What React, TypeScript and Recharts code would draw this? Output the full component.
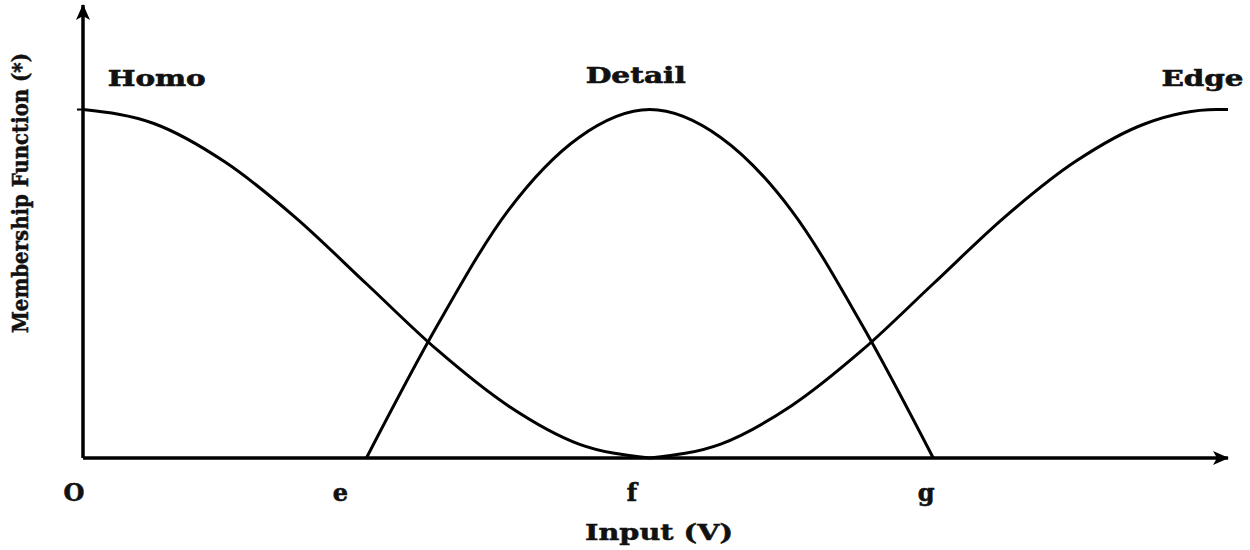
import React from "react";
import { LineChart, Line, XAxis, YAxis, ReferenceDot } from "recharts";

// input positions: O, e, f, g on the x axis (unit steps), last point is the right edge
const inputs = [0, 0.25, 0.5, 0.75, 1, 1.25, 1.5, 1.75, 2, 2.25, 2.5, 2.75, 3, 3.25, 3.5, 3.75, 4, 4.04];
const homo = [1, 0.96, 0.85, 0.69, 0.5, 0.31, 0.15, 0.04, 0, null, null, null, null, null, null, null, null, null];
const detail = [null, null, null, null, 0, 0.38, 0.71, 0.92, 1, 0.92, 0.71, 0.38, 0, null, null, null, null, null];
const edge = [null, null, null, null, null, null, null, null, 0, 0.04, 0.15, 0.31, 0.5, 0.69, 0.85, 0.96, 1, 1];

const tickValues = [0, 1, 2, 3];
const tickLabels = ["O", "e", "f", "g"];

const seriesLabels = [
  { name: "Homo", x: 0.26, y: 1.09, width: 98 },
  { name: "Detail", x: 1.95, y: 1.1, width: 100 },
  { name: "Edge", x: 3.95, y: 1.09, width: 82 },
];

const data = inputs.map((x, i) => ({
  x,
  homo: homo[i],
  detail: detail[i],
  edge: edge[i],
}));

const FONT = "'DejaVu Serif', serif";
const tickShift = [-9, -26, -18, -7];

const XTick = (props: any) => {
  const { x, payload } = props;
  const i = tickValues.indexOf(payload.value);
  return (
    <text
      x={x + (tickShift[i] || 0)}
      y={501}
      textAnchor="middle"
      fontFamily={FONT}
      fontWeight="bold"
      fontSize={24}
      fill="#111"
      stroke="#111"
      strokeWidth={0.6}
    >
      {tickLabels[i]}
    </text>
  );
};

const makeLabel = (text: string, width: number) => (props: any) => {
  const vb = props.viewBox || {};
  return (
    <text
      x={vb.x}
      y={vb.y + 8}
      textAnchor="middle"
      fontFamily={FONT}
      fontWeight="bold"
      fontSize={22}
      fill="#111"
      stroke="#111"
      strokeWidth={0.6}
      textLength={width}
      lengthAdjust="spacingAndGlyphs"
    >
      {text}
    </text>
  );
};

export default function App() {
  return (
    <div style={{ position: "absolute", left: 0, top: 0, background: "#fff" }}>
      <svg width={0} height={0} style={{ position: "absolute" }}>
        <defs>
          <marker
            id="arrowHead"
            viewBox="0 0 16 14"
            markerWidth={16}
            markerHeight={14}
            refX={15}
            refY={7}
            markerUnits="userSpaceOnUse"
            orient="auto-start-reverse"
          >
            <path d="M0,0 L16,7 L0,14 L4,7 z" fill="#000" />
          </marker>
        </defs>
      </svg>
      <LineChart
        width={1250}
        height={550}
        data={data}
        margin={{ top: 5, right: 22, bottom: 0, left: 2 }}
      >
        <XAxis
          dataKey="x"
          type="number"
          domain={[0, 4.04]}
          ticks={tickValues}
          interval={0}
          height={92}
          tickLine={false}
          tick={<XTick />}
          axisLine={{ stroke: "#000", strokeWidth: 3.5, markerEnd: "url(#arrowHead)" }}
          label={() => (
            <text
              x={659}
              y={540}
              textAnchor="middle"
              fontFamily={FONT}
              fontWeight="bold"
              fontSize={22}
              fill="#111"
              stroke="#111"
              strokeWidth={0.5}
              textLength={148}
              lengthAdjust="spacingAndGlyphs"
            >
              Input (V)
            </text>
          )}
        />
        <YAxis
          type="number"
          domain={[0, 1.3]}
          ticks={[1]}
          width={81}
          tickSize={6}
          tickLine={{ stroke: "#000", strokeWidth: 2 }}
          tick={() => <g />}
          axisLine={{ stroke: "#000", strokeWidth: 3.5, markerStart: "url(#arrowHead)" }}
          label={() => (
            <text
              x={28}
              y={193}
              transform="rotate(-90 28 193)"
              textAnchor="middle"
              fontFamily={FONT}
              fontWeight="bold"
              fontSize={23}
              fill="#111"
              stroke="#111"
              strokeWidth={0.5}
              textLength={280}
              lengthAdjust="spacingAndGlyphs"
            >
              Membership Function (*)
            </text>
          )}
        />
        <Line type="monotone" dataKey="homo" name="Homo" stroke="#000" strokeWidth={3} dot={false} isAnimationActive={false} connectNulls={false} />
        <Line type="monotone" dataKey="detail" name="Detail" stroke="#000" strokeWidth={3} dot={false} isAnimationActive={false} connectNulls={false} />
        <Line type="monotone" dataKey="edge" name="Edge" stroke="#000" strokeWidth={3} dot={false} isAnimationActive={false} connectNulls={false} />
        {seriesLabels.map((s) => (
          <ReferenceDot
            key={s.name}
            x={s.x}
            y={s.y}
            r={0}
            stroke="none"
            fill="none"
            ifOverflow="visible"
            label={makeLabel(s.name, s.width)}
          />
        ))}
      </LineChart>
    </div>
  );
}
